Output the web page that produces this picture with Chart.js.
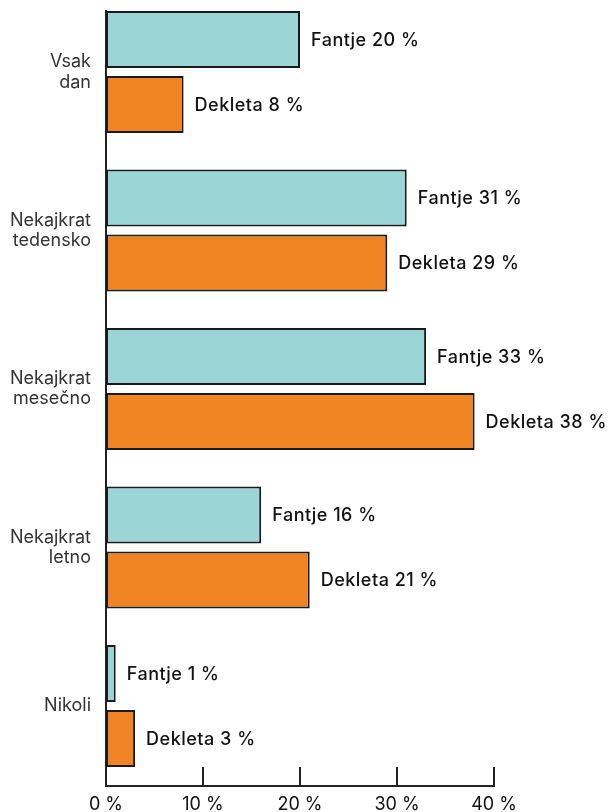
<!DOCTYPE html>
<html>
<head>
<meta charset="utf-8">
<script src="https://cdn.jsdelivr.net/npm/chart.js@4"></script>
<style>
  html, body { margin: 0; padding: 0; background: #fff; }
  #wrap { width: 609px; height: 812px; }
</style>
</head>
<body>
<div id="wrap"><canvas id="myChart"></canvas></div>
<script>
const categories = [['Vsak', 'dan'], ['Nekajkrat', 'tedensko'], ['Nekajkrat', 'mesečno'], ['Nekajkrat', 'letno'], ['Nikoli']];
const fantje = [20, 31, 33, 16, 1];
const dekleta = [8, 29, 38, 21, 3];
const xTicks = [0, 10, 20, 30, 40];

const FONT = 'Inter, "Noto Sans", sans-serif';

// bar value labels to the right of each bar
const valueLabels = {
  id: 'valueLabels',
  afterDatasetsDraw(chart) {
    const ctx = chart.ctx;
    ctx.save();
    ctx.font = '500 18px ' + FONT;
    ctx.letterSpacing = '0.5px';
    ctx.fillStyle = '#111';
    ctx.textBaseline = 'middle';
    ctx.textAlign = 'left';
    chart.data.datasets.forEach((ds, i) => {
      chart.getDatasetMeta(i).data.forEach((bar, j) => {
        ctx.fillText(ds.label + ' ' + ds.data[j].x + ' %', bar.x + 11, bar.y + 1);
      });
    });
    ctx.restore();
  }
};

// tick marks pointing up into the chart area
const innerTicks = {
  id: 'innerTicks',
  afterDraw(chart) {
    const ctx = chart.ctx;
    const xs = chart.scales.x;
    const bottom = chart.chartArea.bottom;
    ctx.save();
    ctx.strokeStyle = '#222';
    ctx.lineWidth = 2;
    xTicks.forEach(v => {
      const px = Math.round(xs.getPixelForValue(v));
      ctx.beginPath();
      ctx.moveTo(px, bottom);
      ctx.lineTo(px, bottom - 19);
      ctx.stroke();
    });
    ctx.restore();
  }
};

function noPad(scale) {
  scale.paddingTop = 0;
  scale.paddingBottom = 0;
  scale.paddingLeft = 0;
  scale.paddingRight = 0;
}

const ctx = document.getElementById('myChart').getContext('2d');
const myChart = new Chart(ctx, {
  type: 'bar',
  data: {
    datasets: [
      {
        label: 'Fantje',
        data: fantje.map((v, i) => ({ x: v, y: i })),
        backgroundColor: '#9bd5d6',
        borderColor: '#1a1a1a',
        borderWidth: 2,
        borderSkipped: false,
        categoryPercentage: 0.82,
        barPercentage: 0.877
      },
      {
        label: 'Dekleta',
        data: dekleta.map((v, i) => ({ x: v, y: i })),
        backgroundColor: '#f08423',
        borderColor: '#1a1a1a',
        borderWidth: 2,
        borderSkipped: false,
        categoryPercentage: 0.82,
        barPercentage: 0.877
      }
    ]
  },
  options: {
    indexAxis: 'y',
    responsive: true,
    maintainAspectRatio: false,
    animation: false,
    layout: { padding: { top: 11, right: 115, left: 0, bottom: 0 } },
    plugins: {
      legend: { display: false },
      tooltip: { enabled: false }
    },
    scales: {
      x: {
        type: 'linear',
        min: 0,
        max: 40,
        afterBuildTicks: (scale) => { scale.ticks = xTicks.map(v => ({ value: v })); },
        afterFit: (scale) => { scale.height = 26; noPad(scale); },
        grid: { display: false },
        border: { display: true, color: '#222', width: 2 },
        ticks: {
          padding: 2,
          color: '#111',
          font: { family: FONT, size: 18, lineHeight: 1 },
          callback: (v) => v + ' %'
        }
      },
      y: {
        type: 'linear',
        reverse: true,
        offset: false,
        bounds: 'data',
        min: -0.385,
        max: 4.505,
        afterBuildTicks: (scale) => { scale.ticks = categories.map((c, i) => ({ value: i })); },
        afterFit: (scale) => { scale.width = 106; noPad(scale); },
        grid: { display: false, offset: false },
        border: { display: true, color: '#222', width: 2 },
        ticks: {
          autoSkip: false,
          padding: 7,
          color: '#333',
          font: { family: FONT, size: 18, lineHeight: 1.12 },
          callback: (v) => categories[v]
        }
      }
    }
  },
  plugins: [valueLabels, innerTicks]
});
</script>
</body>
</html>
